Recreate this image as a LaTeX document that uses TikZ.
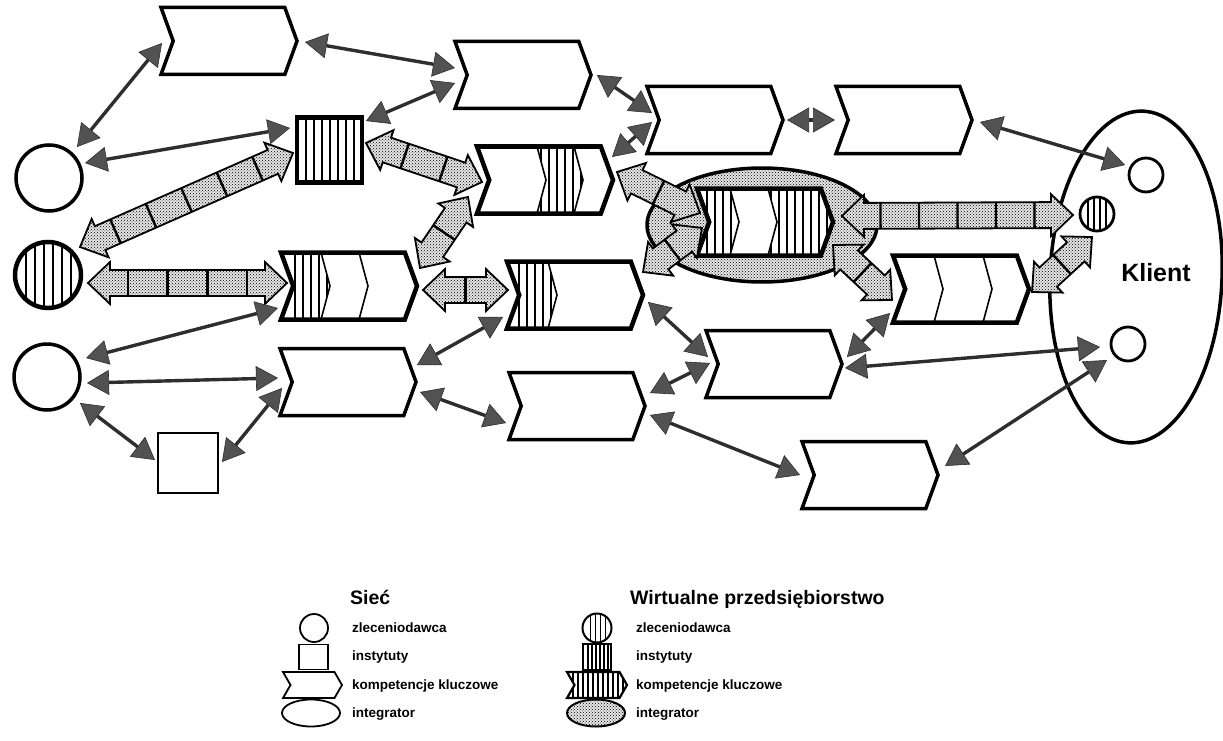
\documentclass[tikz,border=0pt]{standalone}
\usepackage{fontspec}
\setmainfont{Liberation Sans}
\usetikzlibrary{shapes.symbols,shapes.geometric,arrows.meta,patterns,calc}

\newcommand\vlines[2]{\foreach \s in {#1}{\draw[line width=#2] ([xshift=\s pt]path picture bounding box.south west) -- ([xshift=\s pt]path picture bounding box.north west);}}
\newcommand\divl[1]{\draw[line width=1.6pt] ([xshift=#1pt]path picture bounding box.north west) -- ([xshift={#1pt+9pt}]path picture bounding box.west) -- ([xshift=#1pt]path picture bounding box.south west);}
\newcommand\cutr[1]{\fill[white] ([xshift=#1pt]path picture bounding box.north west) -- ([xshift={#1pt+9pt}]path picture bounding box.west) -- ([xshift=#1pt]path picture bounding box.south west) -- (path picture bounding box.south east) -- (path picture bounding box.north east) -- cycle;}
\newcommand\cutl[1]{\fill[white] ([xshift=#1pt]path picture bounding box.north west) -- ([xshift={#1pt+9pt}]path picture bounding box.west) -- ([xshift=#1pt]path picture bounding box.south west) -- (path picture bounding box.south west) -- (path picture bounding box.north west) -- cycle;}
\newcommand\cutm[2]{\fill[white] ([xshift=#1pt]path picture bounding box.north west) -- ([xshift={#1pt+9pt}]path picture bounding box.west) -- ([xshift=#1pt]path picture bounding box.south west) -- ([xshift=#2pt]path picture bounding box.south west) -- ([xshift={#2pt+9pt}]path picture bounding box.west) -- ([xshift=#2pt]path picture bounding box.north west) -- cycle;}

% block arrow: start, end, number of parts
\newcommand\bigarr[3]{%
  \path let \p1=(#1), \p2=(#2), \n1={atan2(\y2-\y1,\x2-\x1)}, \n2={veclen(\x2-\x1,\y2-\y1)} in
    \pgfextra{\xdef\bangle{\n1}\xdef\blen{\n2}};
  \begin{scope}[shift={(#1)},rotate=\bangle]
    \pgfmathsetmacro\bseg{\blen/#3}
    \pgfmathtruncatemacro\nsep{#3-1}
    \draw[blockarrow] (0,0) -- (22,21) -- (22,13) -- ({\blen-22},13) -- ({\blen-22},21) -- (\blen,0)
      -- ({\blen-22},-21) -- ({\blen-22},-13) -- (22,-13) -- (22,-21) -- cycle;
    \foreach \k in {1,...,\nsep}{\draw[line width=2.4pt] ({\k*\bseg},13) -- ({\k*\bseg},-13);}
  \end{scope}}

\tikzset{
  base/.style={draw, line width=3.5pt, fill=white, inner sep=0pt},
  chev/.style={base, shape=signal, signal from=west, signal to=east, signal pointer angle=140,
    minimum width=136pt, minimum height=67pt},
  vechev/.style={chev, line width=4.5pt},
  zcirc/.style={base, circle, minimum size=66pt},
  dotfill/.style={preaction={fill=black!10}, pattern=crosshatch dots},
  blockarrow/.style={draw, line width=1.8pt, dotfill},
  thinarr/.style={line width=3.4pt, draw=black!82,
    >={Triangle[length=22pt,width=25pt,fill=black!68,line width=0.6pt]}, <->},
  item/.style={anchor=west, font=\fontsize{13.5}{16}\selectfont\bfseries, inner sep=0pt},
  head/.style={anchor=west, font=\fontsize{19.5}{22}\selectfont\bfseries, inner sep=0pt},
}

\begin{document}
\begin{tikzpicture}[x=1pt,y=-1pt]
\useasboundingbox (0,0) rectangle (1223,741);

% Klient
\node[base, ellipse, fill=none, minimum width=172pt, minimum height=332pt, rotate=-2.5] (klient) at (1136,277) {};
\node[base, circle, minimum size=34pt, line width=2.8pt] (kc1) at (1146,175) {};
\node[base, circle, minimum size=34pt, line width=2.8pt, path picture={\vlines{8,14,20,26}{1.5pt}}] (kc2) at (1097,214) {};
\node[base, circle, minimum size=34pt, line width=2.8pt] (kc3) at (1128,344) {};
\node[font=\fontsize{25}{28}\selectfont\bfseries] (kt) at (1156,273) {Klient};

% integrator (virtual enterprise)
\node[base, ellipse, minimum width=230pt, minimum height=114pt, dotfill] (integ) at (762,225) {};

% network nodes
\node[zcirc] (c1) at (49,178) {};
\node[zcirc, line width=4.5pt, path picture={\vlines{11,20,29,38,47,56}{1.8pt}}] (c2) at (48,275) {};
\node[zcirc] (c3) at (47,377) {};
\node[base, rectangle, line width=4.5pt, minimum size=65pt, path picture={\vlines{9,17,25,33,41,49,57}{1.8pt}}] (sq) at (329.5,150) {};
\node[base, rectangle, line width=2pt, minimum size=60pt] (s1) at (187.5,462.5) {};

\node[chev] (k1) at (229,41) {};
\node[chev] (k2) at (523,75) {};
\node[chev] (k3) at (715,120) {};
\node[chev] (k4) at (904,120) {};
\node[vechev, path picture={\vlines{14,22,30,38,46}{1.8pt}\cutr{40}\divl{40}\divl{78}}] (k5) at (349,286) {};
\node[chev] (k6) at (348,382) {};
\node[vechev, path picture={\vlines{64,72,80,88,96,104}{1.8pt}\cutl{60}\cutr{97}\divl{60}\divl{97}}] (k7) at (545,180) {};
\node[vechev, path picture={\vlines{12,20,28,36,44}{1.8pt}\cutr{41}\divl{41}}] (k8) at (575,295) {};
\node[chev] (k9) at (577,406) {};
\node[chev] (k10) at (774,364) {};
\node[chev] (k11) at (870,475) {};
\node[vechev, path picture={\divl{41}\divl{90}}] (k12) at (961,289) {};
\node[vechev, path picture={\vlines{10,18,26,34,42,50,58,66,74,82,90,98,106,114,122,130}{1.8pt}\cutm{33}{71}\divl{33}\divl{71}}] (k13) at (765,222) {};

% end points of connectors
\coordinate (t1a) at (77,147);   \coordinate (t1b) at (162,43);
\coordinate (t2a) at (305,42);   \coordinate (t2b) at (455,68);
\coordinate (t3a) at (85,163);   \coordinate (t3b) at (290,128);
\coordinate (t4a) at (366,121);  \coordinate (t4b) at (455,83);
\coordinate (t5a) at (597,75);   \coordinate (t5b) at (652,113);
\coordinate (t6a) at (612,157);  \coordinate (t6b) at (652,122);
\coordinate (t7a) at (787,120);  \coordinate (t7b) at (835,120);
\coordinate (t8a) at (980,122);  \coordinate (t8b) at (1125,165);
\coordinate (t9a) at (86,358);   \coordinate (t9b) at (278,308);
\coordinate (t10a) at (87,383);  \coordinate (t10b) at (278,378);
\coordinate (t11a) at (80,403);  \coordinate (t11b) at (155,460);
\coordinate (t12a) at (222,462); \coordinate (t12b) at (282,388);
\coordinate (t13a) at (417,365); \coordinate (t13b) at (503,317);
\coordinate (t14a) at (420,392); \coordinate (t14b) at (506,423);
\coordinate (t15a) at (648,302); \coordinate (t15b) at (708,357);
\coordinate (t16a) at (650,393); \coordinate (t16b) at (710,363);
\coordinate (t17a) at (650,415); \coordinate (t17b) at (800,475);
\coordinate (t18a) at (847,357); \coordinate (t18b) at (890,313);
\coordinate (t19a) at (845,368); \coordinate (t19b) at (1100,347);
\coordinate (t20a) at (945,466); \coordinate (t20b) at (1107,360);

\coordinate (b1a) at (80,247);   \coordinate (b1b) at (293,153);
\coordinate (b2a) at (88,283);   \coordinate (b2b) at (287,283);
\coordinate (b3a) at (366,143);  \coordinate (b3b) at (482,182);
\coordinate (b4a) at (420,268);  \coordinate (b4b) at (468,197);
\coordinate (b5a) at (423,290);  \coordinate (b5b) at (508,290);
\coordinate (b6a) at (617,172);  \coordinate (b6b) at (700,213);
\coordinate (b7a) at (643,272);  \coordinate (b7b) at (702,228);
\coordinate (b8a) at (842,216);  \coordinate (b8b) at (1073,215);
\coordinate (b9a) at (833,245);  \coordinate (b9b) at (892,300);
\coordinate (b10a) at (1032,292); \coordinate (b10b) at (1092,237);

% block arrows (virtual enterprise)
\bigarr{b1a}{b1b}{6}
\bigarr{b2a}{b2b}{5}
\bigarr{b3a}{b3b}{3}
\bigarr{b4a}{b4b}{2}
\bigarr{b5a}{b5b}{2}
\bigarr{b6a}{b6b}{2}
\bigarr{b7a}{b7b}{2}
\bigarr{b8a}{b8b}{6}
\bigarr{b9a}{b9b}{2}
\bigarr{b10a}{b10b}{2}

% thin arrows (network)
\foreach \i in {1,...,20}{\draw[thinarr] (t\i a) -- (t\i b);}

% legend
\node[head] (h1) at (350,597) {Sieć};
\node[head] (h2) at (630,599) {Wirtualne przedsiębiorstwo};

\node[base, circle, minimum size=28pt, line width=1.8pt] (lc) at (314,628) {};
\node[base, rectangle, minimum width=29pt, minimum height=25pt, line width=1.6pt] (ls) at (313.5,657) {};
\node[chev, minimum width=59pt, minimum height=26pt, line width=1.8pt, signal pointer angle=120] (lk) at (312.5,685) {};
\node[base, ellipse, minimum width=58pt, minimum height=27pt, line width=1.8pt] (le) at (311,713) {};
\node[item] (l1) at (352,628) {zleceniodawca};
\node[item] (l2) at (352,657) {instytuty};
\node[item] (l3) at (352,686) {kompetencje kluczowe};
\node[item] (l4) at (352,714) {integrator};

\node[base, circle, minimum size=29pt, line width=2pt, path picture={\vlines{8,13,18,23}{1.4pt}}] (vc) at (597,628) {};
\node[base, rectangle, minimum width=28pt, minimum height=26pt, line width=2pt, path picture={\vlines{5,9,13,17,21,25}{1.2pt}}] (vs) at (597,657) {};
\node[chev, minimum width=60pt, minimum height=26pt, line width=2.2pt, signal pointer angle=120, path picture={\vlines{6,11,16,21,26,31,36,41,46,51,56}{1.2pt}}] (vk) at (597,685) {};
\node[base, ellipse, minimum width=58pt, minimum height=27pt, line width=2pt, dotfill] (ve) at (596,713) {};
\node[item] (r1) at (636,628) {zleceniodawca};
\node[item] (r2) at (636,657) {instytuty};
\node[item] (r3) at (636,686) {kompetencje kluczowe};
\node[item] (r4) at (636,714) {integrator};
\end{tikzpicture}
\end{document}
